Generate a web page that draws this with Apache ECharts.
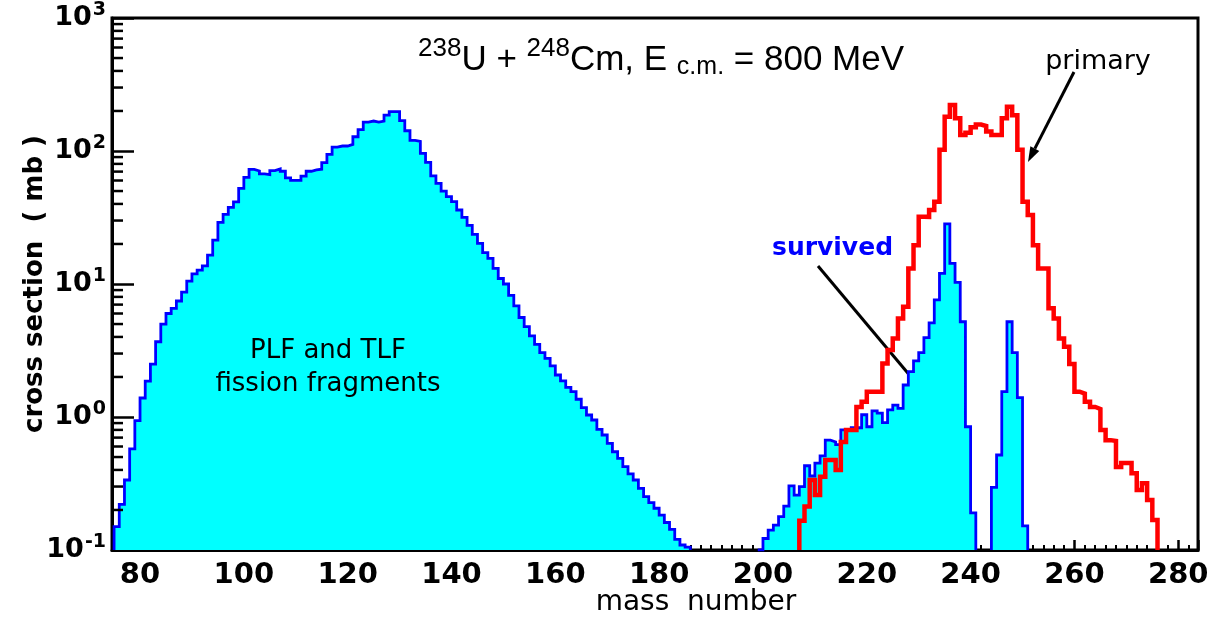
<!DOCTYPE html>
<html>
<head>
<meta charset="utf-8">
<title>238U + 248Cm, E c.m. = 800 MeV</title>
<script src="https://cdn.jsdelivr.net/npm/echarts@6/dist/echarts.min.js"></script>
<style>
  html, body { margin: 0; padding: 0; background: #fff; }
  #chart { width: 1227px; height: 619px; }
</style>
</head>
<body>
<div id="chart"></div>
<script>
// cross section (mb) per mass bin [A, A+1)
var plfStart = 75;
var plfSigma = [
  0.15, 0.22, 0.336, 0.575, 0.94, 1.39, 1.86, 2.5, 3.68, 5.0,
  6.0, 6.56, 7.45, 8.7, 10.5, 11.9, 12.7, 13.7, 16.5, 21.4,
  29.1, 33.4, 37.7, 41.4, 52.4, 63.4, 72.8, 70.8, 67.2, 66.4,
  71.2, 73.3, 70.4, 62.7, 60.2, 60.2, 64.7, 70.4, 72, 73,
  81.7, 94.4, 107, 109, 109, 112, 128, 145, 165, 168,
  165, 168, 186, 198, 198, 169, 142, 120, 118, 96,
  82, 65, 57, 50, 45.4, 41.6, 36, 31.7, 27.6, 23.6,
  20.2, 17.2, 15.6, 13.1, 11, 10, 8.2, 6.84, 5.6, 4.78,
  4.07, 3.52, 3.05, 2.76, 2.42, 2.07, 1.87, 1.67, 1.55, 1.36,
  1.175, 1.035, 0.949, 0.807, 0.732, 0.634, 0.548, 0.489, 0.423, 0.373,
  0.336, 0.291, 0.252, 0.227, 0.206, 0.183, 0.161, 0.143, 0.12, 0.109,
  0.105
];

var survStart = 199;
var survSigma = [
  0.1,
  0.122, 0.141, 0.154, 0.178, 0.214, 0.303, 0.259, 0.3, 0.43, 0.36,
  0.45, 0.51, 0.67, 0.65, 0.62, 0.8, 0.8, 0.83, 0.83, 1.04,
  0.845, 1.11, 1.07, 0.906, 1.13, 1.23, 1.16, 1.74, 2.19, 2.64,
  3.05, 3.95, 5.1, 7.6, 12.0, 28.3, 14.3, 10.3, 5.2, 0.845,
  0.19, null, null, null, 0.296, 0.518, 1.55, 5.2, 3.05, 1.4,
  0.152
];

var primStart = 207;
var primSigma = [
  0.166, 0.212, 0.336, 0.259, 0.356, 0.475, 0.475, 0.4, 0.65, 0.8,
  0.8, 1.19, 1.3, 1.55, 1.55, 1.55, 2.53, 3.19, 3.9, 5.5,
  6.75, 13.1, 19.6, 32.1, 32, 36, 41.6, 102, 181, 222,
  176, 132, 137, 151, 158, 154, 140, 132, 132, 176,
  215, 186, 102, 41.6, 33, 19.6, 13.1, 13.1, 6.56, 5.5,
  3.9, 3.38, 2.5, 1.55, 1.5, 1.3, 1.19, 1.15, 0.8, 0.67,
  0.66, 0.42, 0.45, 0.45, 0.377, 0.283, 0.317, 0.238, 0.168
];

var xMin = 74.6, xMax = 283.8;
var yMin = 0.1, yMax = 1000;

// turn bin contents into closed step outlines (split at empty bins)
function stepSegments(start, values) {
  var segs = [], cur = null;
  for (var i = 0; i < values.length; i++) {
    var a = start + i, v = values[i];
    if (v == null) {
      if (cur) {
        cur.push([a, cur[cur.length - 1][1]], [a, yMin]);
        segs.push(cur);
        cur = null;
      }
      continue;
    }
    if (!cur) cur = [[a, yMin]];
    cur.push([a, v]);
  }
  if (cur) {
    var end = start + values.length;
    cur.push([end, cur[cur.length - 1][1]], [end, yMin]);
    segs.push(cur);
  }
  return segs;
}

// minor ticks of the log axis (2..9 in each decade)
var minorY = [];
for (var k = -1; k < 3; k++) {
  for (var m = 2; m <= 9; m++) minorY.push(m * Math.pow(10, k));
}

function arrow(x1, y1, x2, y2) {
  var ang = Math.atan2(y2 - y1, x2 - x1), L = 15, W = 5;
  var bx = x2 - L * Math.cos(ang), by = y2 - L * Math.sin(ang);
  var px = -Math.sin(ang) * W, py = Math.cos(ang) * W;
  return [
    { type: 'line', shape: { x1: x1, y1: y1, x2: bx, y2: by }, style: { stroke: '#000', lineWidth: 3 } },
    { type: 'polygon', shape: { points: [[x2, y2], [bx + px, by + py], [bx - px, by - py]] }, style: { fill: '#000' } }
  ];
}

var series = [];
stepSegments(plfStart, plfSigma).concat(stepSegments(survStart, survSigma)).forEach(function (seg) {
  series.push({
    type: 'line', data: seg, step: 'end', symbol: 'none', z: 2,
    lineStyle: { color: '#0000ff', width: 2.8, join: 'miter' },
    areaStyle: { color: '#00ffff', opacity: 1, origin: 'start' }
  });
});
stepSegments(primStart, primSigma).forEach(function (seg) {
  series.push({
    type: 'line', data: seg, step: 'end', symbol: 'none', z: 3,
    lineStyle: { color: '#ff0000', width: 4.5, join: 'miter' }
  });
});
series.push({
  type: 'custom', z: 6, silent: true,
  data: minorY.map(function (v) { return [xMin, v]; }),
  renderItem: function (params, api) {
    var p = api.coord([api.value(0), api.value(1)]);
    return { type: 'line', shape: { x1: p[0], y1: p[1], x2: p[0] + 11, y2: p[1] },
      style: { stroke: '#000', lineWidth: 2.5 } };
  }
});

var chart = echarts.init(document.getElementById('chart'));
chart.setOption({
  animation: false,
  backgroundColor: '#fff',
  grid: { left: 112, right: 29, top: 18, bottom: 69, show: true, borderColor: '#000', borderWidth: 3 },
  title: {
    left: 418, top: 36, padding: 0,
    text: '{sup|238}{m|U + }{sup|248}{m|Cm, E }{sub|c.m.}{m| = 800 MeV}',
    textStyle: {
      fontWeight: 'normal',
      rich: {
        m: { fontFamily: 'Liberation Sans', fontWeight: 'normal', fontSize: 35, color: '#000' },
        sup: { fontFamily: 'Liberation Sans', fontWeight: 'normal', fontSize: 26, color: '#000', padding: [0, 0, 22, 0] },
        sub: { fontFamily: 'Liberation Sans', fontWeight: 'normal', fontSize: 25, color: '#000', padding: [14, 0, 0, 0] }
      }
    }
  },
  xAxis: {
    type: 'value', min: xMin, max: xMax, splitNumber: 10,
    axisLine: { lineStyle: { color: '#000', width: 3 } },
    axisTick: { inside: true, length: 10, lineStyle: { color: '#000', width: 2.5 } },
    minorTick: { show: true, splitNumber: 10, length: 5, lineStyle: { color: '#000', width: 2 } },
    splitLine: { show: false },
    axisLabel: {
      color: '#000', fontFamily: 'DejaVu Sans', fontWeight: 'bold', fontSize: 29, margin: 11,
      formatter: function (v) { return v % 20 === 0 ? String(v) : ''; }
    }
  },
  yAxis: {
    type: 'log', logBase: 10, min: yMin, max: yMax,
    axisLine: { show: true, lineStyle: { color: '#000', width: 3 } },
    axisTick: { show: true, inside: true, length: 22, lineStyle: { color: '#000', width: 2.5 } },
    splitLine: { show: false },
    axisLabel: {
      margin: 6,
      formatter: function (v) { return '{b|10}{s|' + Math.round(Math.log10(v)) + '}'; },
      rich: {
        b: { fontFamily: 'DejaVu Sans', fontWeight: 'bold', fontSize: 27, color: '#000' },
        s: { fontFamily: 'DejaVu Sans', fontWeight: 'bold', fontSize: 19, color: '#000', padding: [0, 0, 16, 1] }
      }
    },
    name: 'cross section  ( mb )', nameLocation: 'middle', nameGap: 64, nameMoveOverlap: false,
    nameTextStyle: { fontFamily: 'DejaVu Sans', fontWeight: 'bold', fontSize: 26, color: '#000' }
  },
  series: series,
  graphic: [
    { type: 'text', x: 328, y: 368, z: 10, style: { text: 'PLF and TLF\nfission fragments', font: '26px "DejaVu Sans"', fill: '#000', align: 'center', verticalAlign: 'middle', lineHeight: 33 } },
    { type: 'text', x: 772, y: 248, z: 10, style: { text: 'survived', font: 'bold 25px "DejaVu Sans"', fill: '#0000ff', align: 'left', verticalAlign: 'middle' } },
    { type: 'text', x: 1098, y: 62, z: 10, style: { text: 'primary', font: '27px "DejaVu Sans"', fill: '#000', align: 'center', verticalAlign: 'middle' } },
    { type: 'text', x: 696, y: 603, z: 10, style: { text: 'mass  number', font: '28px "DejaVu Sans"', fill: '#000', align: 'center', verticalAlign: 'middle' } }
  ].concat(arrow(818, 266, 922, 390), arrow(1074, 72, 1028, 162))
});
</script>
</body>
</html>
